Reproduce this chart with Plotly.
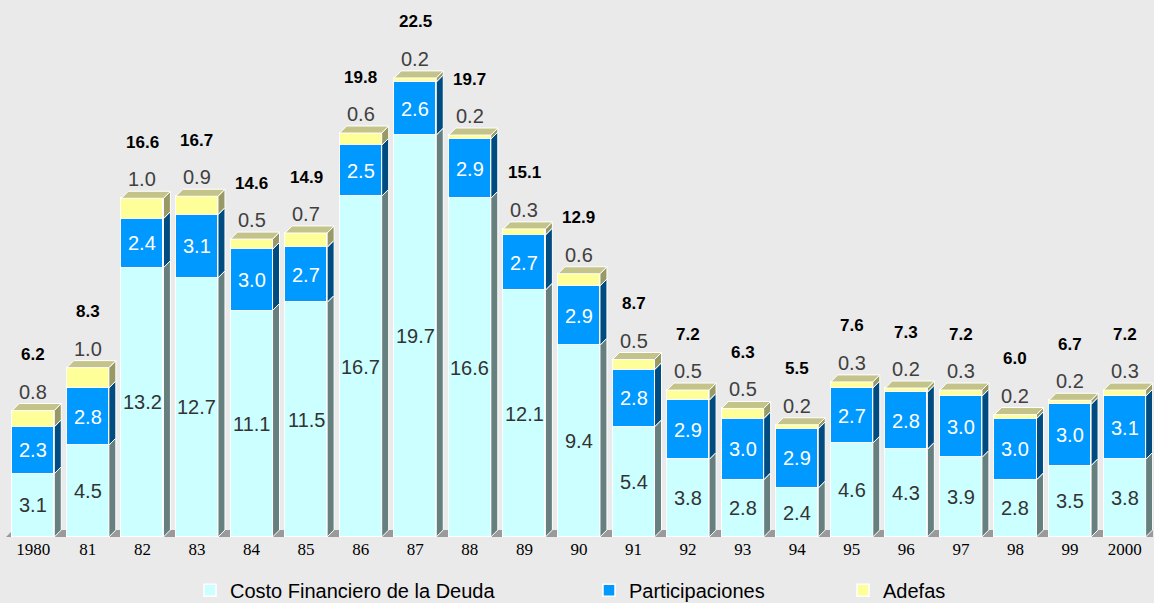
import plotly.graph_objects as go

# Annual series (stacked): debt cost, revenue-sharing transfers and Adefas
years = ["1980", "81", "82", "83", "84", "85", "86", "87", "88", "89", "90",
         "91", "92", "93", "94", "95", "96", "97", "98", "99", "2000"]
costo = [3.1, 4.5, 13.2, 12.7, 11.1, 11.5, 16.7, 19.7, 16.6, 12.1, 9.4,
         5.4, 3.8, 2.8, 2.4, 4.6, 4.3, 3.9, 2.8, 3.5, 3.8]
participaciones = [2.3, 2.8, 2.4, 3.1, 3.0, 2.7, 2.5, 2.6, 2.9, 2.7, 2.9,
                   2.8, 2.9, 3.0, 2.9, 2.7, 2.8, 3.0, 3.0, 3.0, 3.1]
adefas = [0.8, 1.0, 1.0, 0.9, 0.5, 0.7, 0.6, 0.2, 0.2, 0.3, 0.6,
          0.5, 0.5, 0.5, 0.2, 0.3, 0.2, 0.3, 0.2, 0.2, 0.3]
totales = [6.2, 8.3, 16.6, 16.7, 14.6, 14.9, 19.8, 22.5, 19.7, 15.1, 12.9,
           8.7, 7.2, 6.3, 5.5, 7.6, 7.3, 7.2, 6.0, 6.7, 7.2]

BG = "#eaeaea"
FRONT = ["#ccffff", "#0099ff", "#ffff99"]
SIDE = ["#668080", "#004c80", "#999966"]
TOP = "#c4c48a"
FLOOR = "#9a9a9a"

BAR_W = 0.77
DX = 0.128   # depth offset along x (axis units)
DY = 0.345   # depth offset along y (axis units)
X_MAX = 20.52
Y_MAX = 26.32

xs = list(range(len(years)))
series = [("Costo Financiero de la Deuda", costo),
          ("Participaciones", participaciones),
          ("Adefas", adefas)]

fig = go.Figure()
for k, (name, vals) in enumerate(series):
    fig.add_trace(go.Bar(
        x=xs, y=vals, name=name, width=BAR_W,
        marker=dict(color=FRONT[k], line=dict(color="white", width=1.5)),
        legend="legend" if k == 0 else f"legend{k + 1}",
        hoverinfo="skip",
    ))


def path(pts):
    return "M " + " L ".join(f"{x:.4f},{y:.4f}" for x, y in pts) + " Z"


shapes = []
# floor strip under the bars
shapes.append(dict(
    type="path", xref="x", yref="y", layer="below",
    path=path([(-0.5, 0), (-0.5 + DX, DY), (X_MAX, DY), (X_MAX, 0)]),
    fillcolor=FLOOR, line=dict(width=0),
))

annotations = []
for i, x in enumerate(xs):
    xl, xr = x - BAR_W / 2, x + BAR_W / 2
    base = 0.0
    for k, (_, vals) in enumerate(series):
        y0, y1 = base, base + vals[i]
        shapes.append(dict(
            type="path", xref="x", yref="y", layer="above",
            path=path([(xr, y0), (xr + DX, y0 + DY), (xr + DX, y1 + DY), (xr, y1)]),
            fillcolor=SIDE[k], line=dict(color="white", width=1),
        ))
        if k < 2:
            annotations.append(dict(
                x=x, y=(y0 + y1) / 2, xref="x", yref="y", showarrow=False,
                text=f"{vals[i]:.1f}",
                font=dict(family="Liberation Sans, Arial", size=20,
                          color="#333333" if k == 0 else "white"),
            ))
        base = y1
    top = base
    shapes.append(dict(
        type="path", xref="x", yref="y", layer="above",
        path=path([(xl, top), (xl + DX, top + DY), (xr + DX, top + DY), (xr, top)]),
        fillcolor=TOP, line=dict(color="white", width=1),
    ))
    annotations.append(dict(
        x=x, y=top, xref="x", yref="y", showarrow=False, yanchor="middle",
        yshift=19, text=f"{adefas[i]:.1f}",
        font=dict(family="Liberation Sans, Arial", size=20, color="#404040"),
    ))
    annotations.append(dict(
        x=x, y=top, xref="x", yref="y", showarrow=False, yanchor="middle",
        yshift=56, text=f"<b>{totales[i]:.1f}</b>",
        font=dict(family="Liberation Sans, Arial", size=17, color="black"),
    ))

legend_font = dict(family="Liberation Sans, Arial", size=20, color="black")
legend_common = dict(orientation="h", yanchor="middle", y=-0.099,
                     xanchor="left", bgcolor="rgba(0,0,0,0)", borderwidth=0,
                     font=legend_font, itemclick=False, itemdoubleclick=False)

fig.update_layout(
    width=1154, height=603,
    margin=dict(l=6, r=1, t=0, b=66, autoexpand=False),
    paper_bgcolor=BG, plot_bgcolor=BG,
    barmode="stack", bargap=0,
    showlegend=True,
    legend=dict(x=(190 - 6) / 1147, **legend_common),
    legend2=dict(x=(589 - 6) / 1147, **legend_common),
    legend3=dict(x=(843 - 6) / 1147, **legend_common),
    xaxis=dict(range=[-0.5, X_MAX], tickmode="array", tickvals=xs, ticktext=years,
               showgrid=False, zeroline=False, showline=False, ticks="",
               tickfont=dict(family="Liberation Serif, Times New Roman", size=17,
                             color="black"),
               fixedrange=True),
    yaxis=dict(range=[0, Y_MAX], visible=False, showgrid=False, zeroline=False,
               fixedrange=True),
    shapes=shapes,
    annotations=annotations,
    hovermode=False,
)

fig.write_html("out.html")
